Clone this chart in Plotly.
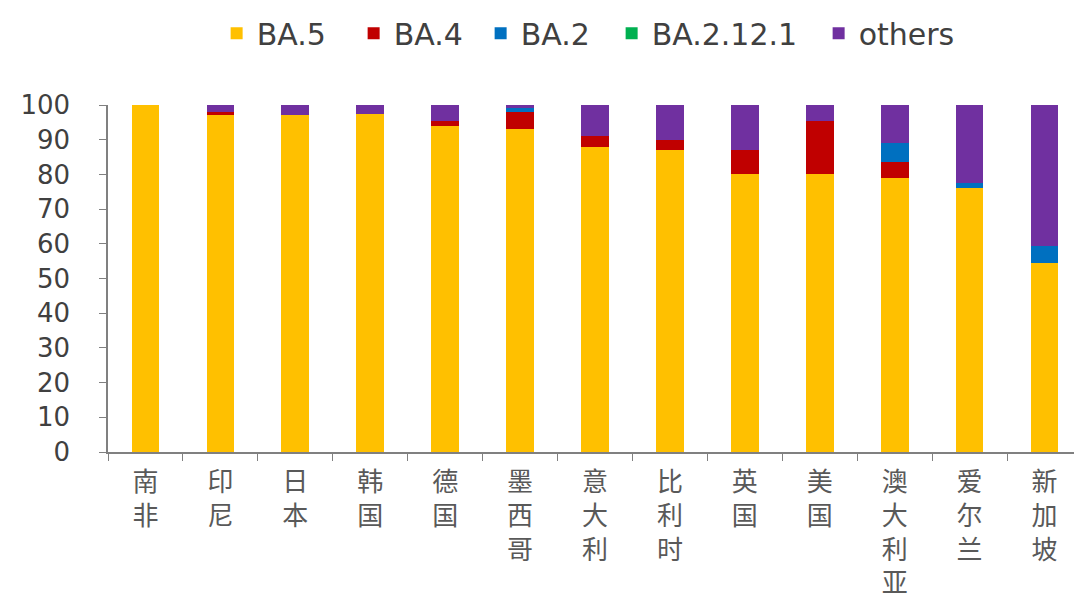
import plotly.graph_objects as go

countries = ["南非", "印尼", "日本", "韩国", "德国", "墨西哥", "意大利",
             "比利时", "英国", "美国", "澳大利亚", "爱尔兰", "新加坡"]

ba5 = [100, 97, 97, 97.5, 94, 93, 88, 87, 80, 80, 79, 76, 54.5]
ba4 = [0, 1, 0, 0, 1.5, 5, 3, 3, 7, 15.5, 4.5, 0, 0]
ba2 = [0, 0, 0, 0, 0, 1, 0, 0, 0, 0, 5.5, 1.5, 5]
ba2121 = [0, 0, 0, 0, 0, 0, 0, 0, 0, 0, 0, 0, 0]
others = [0, 2, 3, 2.5, 4.5, 1, 9, 10, 13, 4.5, 11, 22.5, 40.5]

y_ticks = list(range(0, 101, 10))

series = [
    ("BA.5", ba5, "#FFC000", 92),
    ("BA.4", ba4, "#C00000", 82),
    ("BA.2", ba2, "#0070C0", 86),
    ("BA.2.12.1", ba2121, "#00B050", 162),
    ("others", others, "#7030A0", 100),
]

# vertical labels: one character per line
tick_text = ["<br>".join(list(c)) for c in countries]

fig = go.Figure()
for name, vals, color, lw in series:
    fig.add_trace(go.Bar(
        x=countries,
        y=vals,
        name=name,
        legendwidth=lw,
        marker=dict(color=color, line=dict(width=0)),
    ))

# page body has an 8px margin, so the figure is shifted; margins compensate
fig.update_layout(
    barmode="stack",
    bargap=0.63,
    width=1074,
    height=591,
    margin=dict(l=100, r=0, t=97, b=147, autoexpand=False),
    plot_bgcolor="white",
    paper_bgcolor="white",
    font=dict(family="DejaVu Sans, sans-serif", color="#404040"),
    legend=dict(
        orientation="h",
        x=0.495, xanchor="center",
        y=1.207, yanchor="middle",
        font=dict(size=30, color="#404040"),
        itemwidth=30,
        traceorder="normal",
    ),
    showlegend=True,
)

fig.update_xaxes(
    tickmode="array",
    tickvals=countries,
    ticktext=tick_text,
    tickson="boundaries",
    ticks="outside",
    ticklen=7,
    tickcolor="#808080",
    showline=True,
    linecolor="#808080",
    linewidth=1.5,
    ticklabelstandoff=6,
    tickfont=dict(family="Noto Sans CJK SC", size=26, color="#595959"),
    range=[-0.5, 12.5],
)

fig.update_yaxes(
    range=[0, 100],
    tickvals=y_ticks,
    ticks="outside",
    ticklen=7,
    tickcolor="#808080",
    showline=True,
    linecolor="#808080",
    linewidth=1.5,
    showgrid=False,
    zeroline=False,
    ticklabelstandoff=24,
    tickfont=dict(size=26, color="#404040"),
)

fig.write_html("out.html")
